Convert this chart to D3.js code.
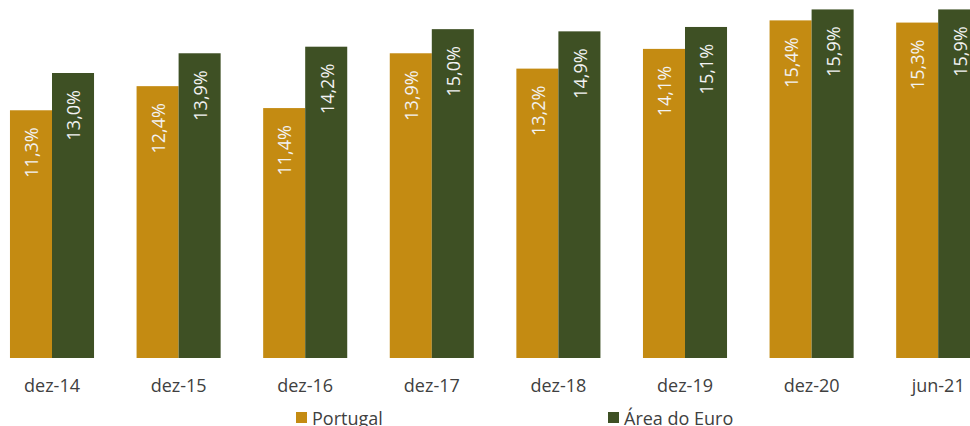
<!DOCTYPE html>
<html>
<head>
<meta charset="utf-8">
<script src="https://cdn.jsdelivr.net/npm/d3@7"></script>
<style>
html,body{margin:0;padding:0;background:#fff;}
svg{display:block;font-family:"Open Sans","DejaVu Sans",sans-serif;}
</style>
</head>
<body>
<svg id="chart" width="970" height="426"></svg>
<script>
const categories = ["dez-14","dez-15","dez-16","dez-17","dez-18","dez-19","dez-20","jun-21"];
const seriesNames = ["Portugal","Área do Euro"];
const portugal = [11.3,12.4,11.4,13.9,13.2,14.1,15.4,15.3];
const euro = [13.0,13.9,14.2,15.0,14.9,15.1,15.9,15.9];
const colors = ["#C48B12","#3E5024"];

const svg = d3.select("#chart");
const baseline = 358;

const x0 = d3.scaleBand().domain(categories).range([-11.3, 1001.5]).paddingInner(0.336).paddingOuter(0.168);
const x1 = d3.scaleBand().domain(seriesNames).range([0, x0.bandwidth()]);
const y = d3.scaleLinear().domain([0, 16.33]).range([baseline, 0]);

const fmt = v => d3.format(".1f")(v).replace(".", ",") + "%";
const data = categories.map((c,i)=>({cat:c, vals:[portugal[i], euro[i]]}));

const groups = svg.selectAll("g.grp").data(data).join("g")
  .attr("class","grp")
  .attr("transform", d=>`translate(${x0(d.cat)},0)`);

groups.selectAll("rect").data(d=>d.vals.map((v,j)=>({v, s:seriesNames[j], j}))).join("rect")
  .attr("x", d=>x1(d.s))
  .attr("width", x1.bandwidth())
  .attr("y", d=>y(d.v))
  .attr("height", d=>baseline - y(d.v))
  .attr("fill", d=>colors[d.j]);

groups.selectAll("text.lbl").data(d=>d.vals.map((v,j)=>({v, s:seriesNames[j], j}))).join("text")
  .attr("class","lbl")
  .attr("transform", d=>`translate(${x1(d.s)+x1.bandwidth()/2+1},${y(d.v)+17}) rotate(-90)`)
  .attr("text-anchor","end")
  .attr("dy","0.35em")
  .attr("fill","#F2F2F2")
  .attr("font-size","18px")
  .text(d=>fmt(d.v));

// category axis
const axis = svg.append("g").attr("transform",`translate(0,${baseline})`)
  .call(d3.axisBottom(x0).tickSize(0).tickPadding(0));
axis.select(".domain").remove();
axis.selectAll("text")
  .attr("y", 34)
  .attr("dy", 0)
  .attr("fill","#404040")
  .attr("font-size","18px")
  .attr("font-family","'Open Sans','DejaVu Sans',sans-serif");

// legend
const legendX = [296, 608];
const leg = svg.selectAll("g.leg").data(seriesNames).join("g")
  .attr("class","leg")
  .attr("transform",(d,i)=>`translate(${legendX[i]},0)`);
leg.append("rect").attr("x",0).attr("y",412).attr("width",11).attr("height",11)
  .attr("fill",(d,i)=>colors[i]);
leg.append("text").attr("x",16).attr("y",425)
  .attr("fill","#404040").attr("font-size","18px")
  .text(d=>d);
</script>
</body>
</html>
